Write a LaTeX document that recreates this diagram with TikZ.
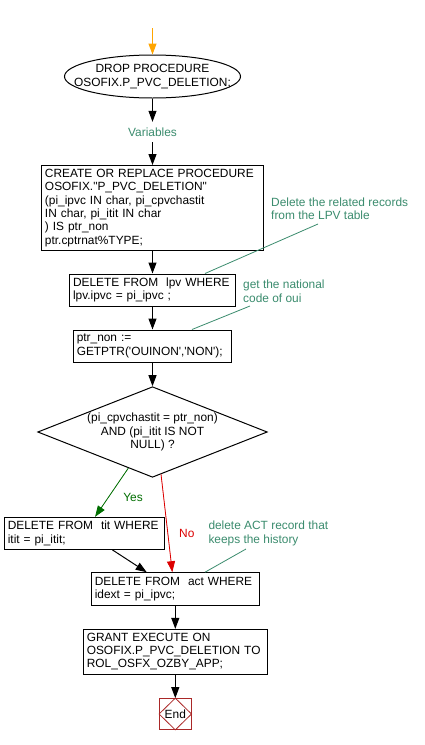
\documentclass[tikz,border=0pt]{standalone}
\usepackage{fontspec}
\setmainfont{Liberation Sans}
\usetikzlibrary{shapes.geometric,arrows.meta,calc}
\definecolor{cmt}{RGB}{59,140,110}
\definecolor{yesg}{RGB}{0,110,0}
\definecolor{nored}{RGB}{220,0,0}
\definecolor{endred}{RGB}{170,40,40}
\definecolor{startor}{RGB}{255,165,0}
\begin{document}
\begin{tikzpicture}[x=1pt,y=-1pt, font=\fontsize{11.9}{13.3}\selectfont,
 box/.style={draw, line width=1pt, inner xsep=3.5pt, inner ysep=0pt, align=left},
 arr/.style={line width=1pt, -{Triangle[length=11pt,width=8pt]}},
 cmttext/.style={text=cmt, align=left, inner sep=0pt, anchor=west},
 cmtline/.style={draw=cmt, line width=0.8pt},
]
\useasboundingbox[fill=white] (0,0) rectangle (425,745);

% start and ellipse
\coordinate (st) at (152.5,28);
\node[ellipse, draw, line width=1pt, minimum width=176pt, minimum height=43pt, inner sep=0pt,
  label={[align=center,inner sep=0pt]center:{DROP PROCEDURE\\OSOFIX.P\_PVC\_DELETION;}}] (ell) at (152.5,76.5) {};
\draw[arr, draw=startor, fill=startor] (st) -- (ell);

\node[text=cmt, inner sep=0pt, minimum height=20pt] (var) at (152.5,132) {Variables};
\draw[arr] (ell) -- (var);

\node[box, minimum height=85pt, text width=215pt] (b1) at (152.5,208)
 {CREATE OR REPLACE PROCEDURE\\OSOFIX.\textquotedbl P\_PVC\_DELETION\textquotedbl\\(pi\_ipvc IN char, pi\_cpvchastit\\IN char, pi\_itit IN char\\) IS ptr\_non\\ptr.cptrnat\%TYPE;};
\draw[arr] (var) -- (b1);

\node[box, minimum height=32pt, text width=159pt] (b2) at (152.5,290)
 {DELETE FROM\ \ lpv WHERE\\lpv.ipvc = pi\_ipvc ;};
\draw[arr] (b1) -- (b2);

\node[box, minimum height=32pt, text width=151.5pt] (b3) at (152.5,346)
 {ptr\_non :=\\GETPTR(\textquotesingle OUINON\textquotesingle,\textquotesingle NON\textquotesingle);};
\draw[arr] (b2) -- (b3);

\node[diamond, draw, line width=1pt, minimum width=229.6pt, minimum height=90.6pt, inner sep=0pt,
  label={[align=center,inner sep=0pt]center:{(pi\_cpvchastit = ptr\_non)\\AND (pi\_itit IS NOT\\NULL) ?}}] (dia) at (152.5,432) {};
\draw[arr] (b3) -- (dia);

\node[box, minimum height=32pt, text width=153pt] (tit) at (84.3,533.3)
 {DELETE FROM\ \ tit WHERE\\itit = pi\_itit;};
\node[box, minimum height=32.6pt, text width=161pt] (act) at (175.3,589)
 {DELETE FROM\ \ act WHERE\\idext = pi\_ipvc;};
\node[box, minimum height=44.7pt, text width=177pt] (grant) at (175.3,651.7)
 {GRANT EXECUTE ON\\OSOFIX.P\_PVC\_DELETION TO\\ROL\_OSFX\_OZBY\_APP;};
\node[draw=endred, line width=1pt, minimum width=32.4pt, minimum height=31.7pt, inner sep=0pt, outer sep=0pt] (end) at (175.3,714) {End};
\draw[endred, line width=0.8pt] (end.north) -- (end.east) -- (end.south) -- (end.west) -- cycle;

% Yes / No branches
\draw[line width=0.8pt, draw=yesg, fill=yesg, -{Triangle[length=11pt,width=8pt]}]
  ($(dia.south)!0.21!(dia.west)$) -- ($(tit.north west)!0.567!(tit.north east)$);
\node[text=yesg, inner sep=0pt] (yes) at (133,497.7) {Yes};
\draw[line width=0.8pt, draw=nored, fill=nored, -{Triangle[length=11pt,width=8pt]}]
  ($(dia.south)!0.074!(dia.east)$) -- ([xshift=-3pt]act.north);
\node[text=nored, inner sep=0pt] (no) at (186.8,533.3) {No};

\draw[arr] ([xshift=28pt]tit.south) -- ([xshift=-28.6pt]act.north);
\draw[arr] (act) -- (grant);
\draw[arr] (grant) -- (end);

% comments
\node[cmttext] (c1) at (271,208.5) {Delete the related records\\from the LPV table};
\coordinate (c1e) at (318,224);
\draw[cmtline] (c1e) -- ([xshift=52.5pt]b2.north);
\node[cmttext] (c2) at (243,291.3) {get the national\\code of oui};
\coordinate (c2e) at (250,306);
\draw[cmtline] (c2e) -- ([xshift=39.5pt]b3.north);
\node[cmttext] (c3) at (208.3,533.5) {delete ACT record that\\keeps the history};
\coordinate (c3e) at (246,549);
\draw[cmtline] (c3e) -- ([xshift=29.7pt]act.north);
\end{tikzpicture}
\end{document}
